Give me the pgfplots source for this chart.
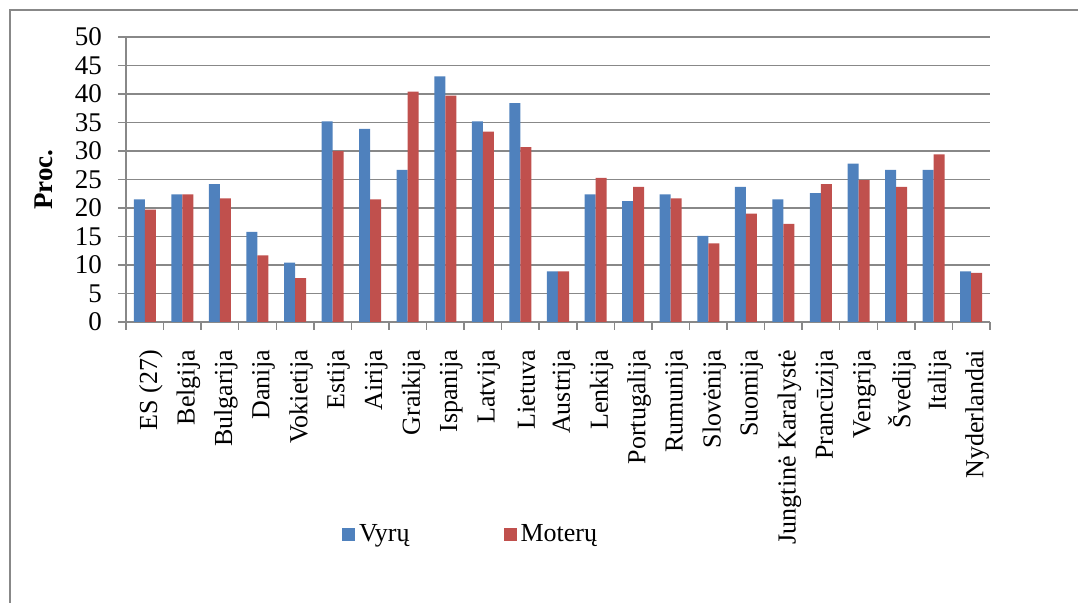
\documentclass[border=0pt]{standalone}
\usepackage{pgfplots}
\pgfplotsset{compat=1.18}
\usepackage{fontspec}
\setmainfont{Liberation Serif}
\definecolor{vyr}{HTML}{4F81BD}
\definecolor{mot}{HTML}{C0504D}
\definecolor{gridc}{HTML}{888888}
\begin{document}
\begin{tikzpicture}
\useasboundingbox (0,0) rectangle (539pt,-301.5pt);
\draw[color=gridc, line width=1pt] (4.75pt,-5.25pt) rectangle (600pt,-400pt);
\begin{axis}[
  at={(63pt,-161pt)}, anchor=south west,
  scale only axis, width=432pt, height=142.5pt,
  ybar=0pt, bar width=5.5pt,
  xmin=-0.5, xmax=22.5, ymin=0, ymax=50,
  ytick={0,5,...,50},
  xtick={0,...,22},
  minor xtick={-0.5,0.5,...,22.5},
  xticklabels={ES (27),Belgija,Bulgarija,Danija,Vokietija,Estija,Airija,Graikija,Ispanija,Latvija,Lietuva,Austrija,Lenkija,Portugalija,Rumunija,Slovėnija,Suomija,Jungtinė Karalystė,Prancūzija,Vengrija,Švedija,Italija,Nyderlandai},
  axis x line*=bottom, axis y line*=left,
  x axis line style={-, draw=gridc, line width=0.75pt},
  y axis line style={-, draw=gridc, line width=0.75pt},
  tick align=outside,
  major tick length=4pt, minor tick length=4pt,
  tick style={draw=gridc, line width=0.75pt},
  major x tick style={draw=none},
  ymajorgrids, grid style={draw=gridc, line width=0.75pt},
  /pgf/number format/assume math mode=true,
  yticklabel style={font=\fontsize{13.5}{15}\selectfont, xshift=-4.5pt},
  xticklabel style={font=\fontsize{13}{15}\selectfont, xshift=3pt, yshift=-6.5pt, rotate=90, anchor=east},
  ylabel={\textbf{Proc.}},
  ylabel style={font=\fontsize{13.5}{15}\selectfont, at={(axis description cs:-0.095,0.5)}, anchor=center, rotate=0},
  legend style={at={(0.40,-0.747)}, anchor=center, draw=none, fill=none,
    font=\fontsize{13}{15}\selectfont, legend columns=2,
    /tikz/every even column/.append style={column sep=45pt}},
]
\addplot[fill=vyr, draw=none, legend image code/.code={\fill[vyr] (0pt,-3.25pt) rectangle (6.5pt,3.25pt);}] coordinates {
(0,21.5) (1,22.4) (2,24.2) (3,15.8) (4,10.4) (5,35.2) (6,33.9) (7,26.7)
(8,43.1) (9,35.2) (10,38.4) (11,8.9) (12,22.4) (13,21.2) (14,22.4) (15,15.1)
(16,23.7) (17,21.5) (18,22.6) (19,27.8) (20,26.7) (21,26.7) (22,8.9)};
\addplot[fill=mot, draw=none, legend image code/.code={\fill[mot] (0pt,-3.25pt) rectangle (6.5pt,3.25pt);}] coordinates {
(0,19.7) (1,22.4) (2,21.7) (3,11.7) (4,7.7) (5,30.0) (6,21.5) (7,40.4)
(8,39.7) (9,33.4) (10,30.7) (11,8.9) (12,25.3) (13,23.7) (14,21.7) (15,13.8)
(16,19.0) (17,17.2) (18,24.2) (19,24.9) (20,23.7) (21,29.4) (22,8.6)};
\legend{Vyrų,Moterų}
\end{axis}
\end{tikzpicture}
\end{document}
